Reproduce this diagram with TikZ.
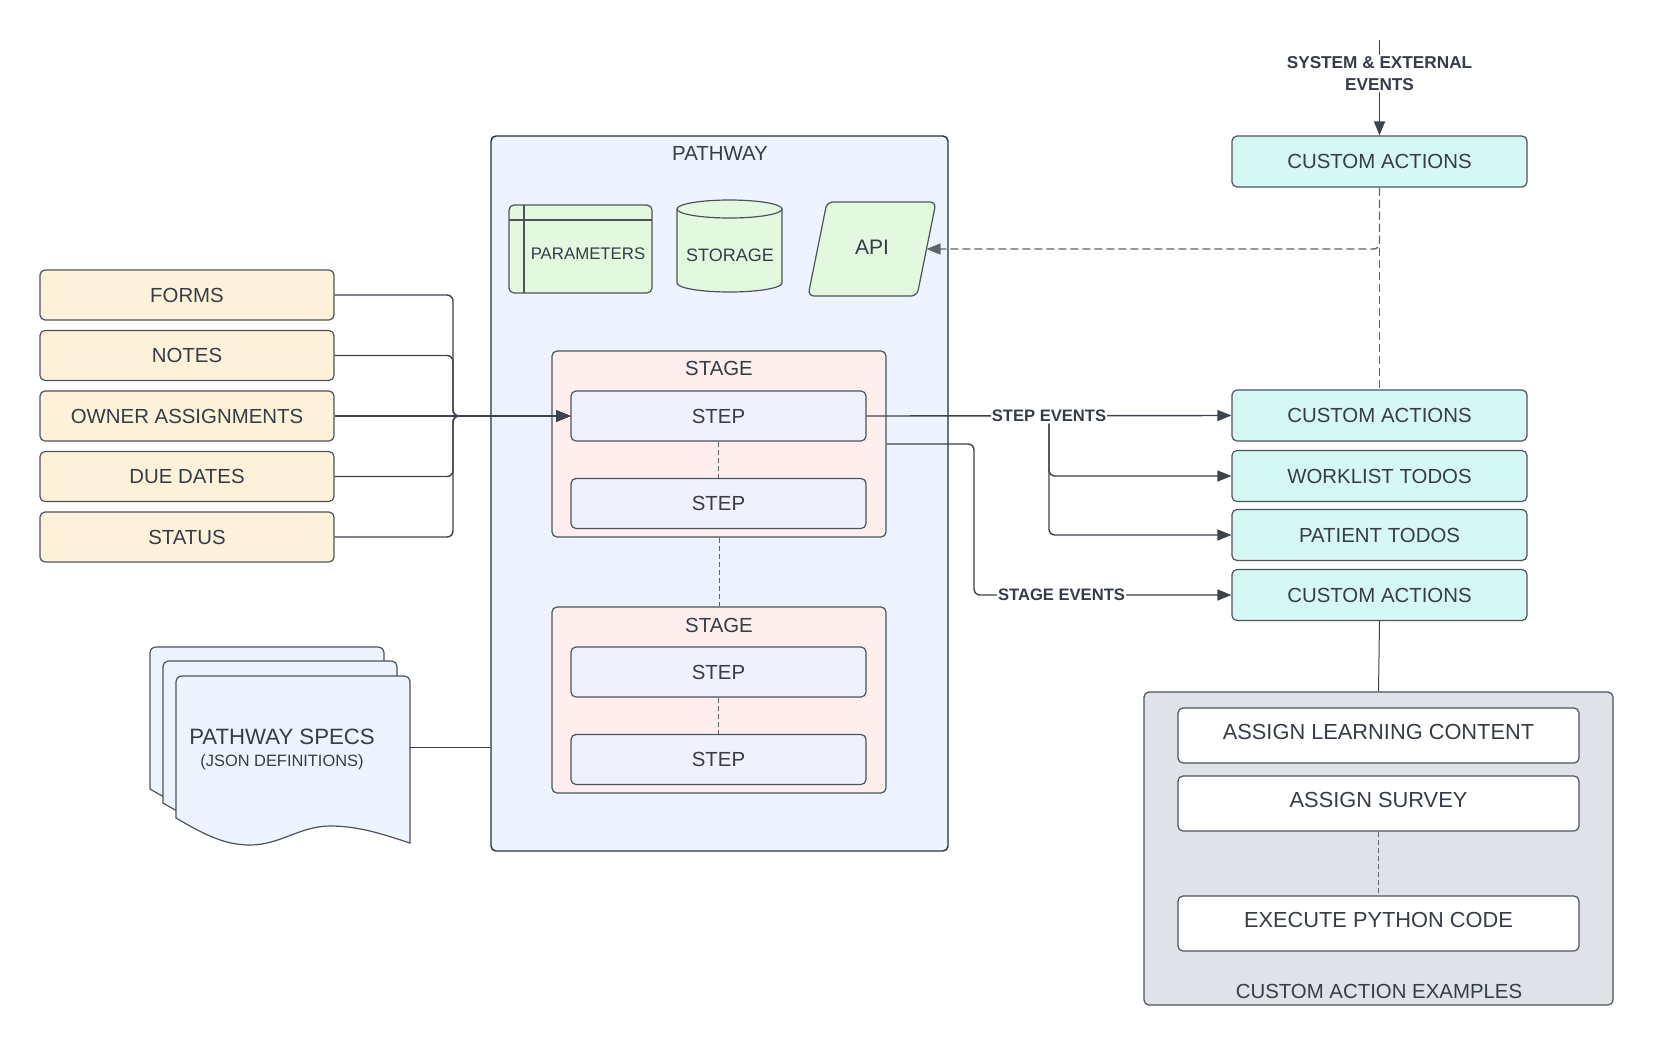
\documentclass[tikz,border=0pt]{standalone}
\usepackage{fontspec}
\setmainfont{Liberation Sans}
\usetikzlibrary{arrows.meta,shapes.geometric,calc}
\definecolor{txt}{HTML}{363D47}
\definecolor{bordc}{HTML}{4E535B}
\definecolor{pathb}{HTML}{2B2F36}
\definecolor{linec}{HTML}{3D434C}
\definecolor{dashc}{HTML}{5F646C}
\definecolor{yel}{HTML}{FEF2DA}
\definecolor{blu}{HTML}{EDF4FF}
\definecolor{grn}{HTML}{E2F9E0}
\definecolor{pnk}{HTML}{FEEFEE}
\definecolor{stp}{HTML}{EFF1FD}
\definecolor{cya}{HTML}{D6F8F2}
\definecolor{gry}{HTML}{DFE2E7}
\begin{document}
\begin{tikzpicture}[x=0.5pt,y=-0.5pt,
  every node/.style={text=txt},
  mainfont/.style={font=\fontsize{10.2}{12}\selectfont},
  base/.style={draw=bordc, line width=0.6pt, rounded corners=2.5pt, inner sep=0pt, mainfont},
  inbox/.style={base, fill=yel, minimum width=147pt, minimum height=25pt},
  stagebox/.style={base, fill=pnk, minimum width=167pt, minimum height=93pt},
  stepbox/.style={base, fill=stp, minimum width=147.5pt, minimum height=25pt},
  cabox/.style={base, fill=cya, minimum width=147.5pt, minimum height=25.5pt},
  exbox/.style={base, fill=white, minimum width=200.5pt, minimum height=27.5pt, text height=7.5pt, text depth=3.5pt, font=\fontsize{10.9}{13}\selectfont},
  conn/.style={draw=linec, line width=0.7pt},
  arr/.style={conn, -{Triangle[length=7pt,width=5.5pt]}},
  evlabel/.style={fill=white, inner sep=0.6pt, text=txt, font=\bfseries\fontsize{8.3}{9.5}\selectfont},
  dashlong/.style={draw=dashc, line width=0.7pt, dash pattern=on 4pt off 2pt},
  dashshort/.style={draw=dashc, line width=0.5pt, dash pattern=on 2.5pt off 1.5pt},
  docfill/.style={draw=bordc, fill=blu, line width=0.6pt},
]
\fill[white] (0,0) rectangle (1654,1045);
\useasboundingbox (0,0) rectangle (1654,1045);

% ---------------- Pathway container ----------------
\node[draw=pathb, fill=blu, line width=0.7pt, rounded corners=2.5pt, minimum width=228.5pt, minimum height=357.5pt, inner sep=0pt] (pathway) at (719.5,493.5) {};
\node[mainfont] (pathwaylbl) at (720,153) {PATHWAY};

% parameters
\node[base, fill=grn, minimum width=71.5pt, minimum height=44pt] (params) at (580.5,249) {};
\draw[bordc, line width=0.6pt] (524,205) -- (524,293);
\draw[bordc, line width=0.6pt] (509,220) -- (652,220);
\node[font=\fontsize{8.4}{10}\selectfont] (paramslbl) at (588,254) {PARAMETERS};

% storage cylinder
\path[draw=bordc, fill=grn, line width=0.6pt] (677,209) -- (677,283)
  arc[start angle=180, end angle=360, x radius=26.25pt, y radius=4.5pt] -- (782,209)
  arc[start angle=0, end angle=180, x radius=26.25pt, y radius=4.5pt] -- cycle;
\draw[bordc, line width=0.6pt] (677,209) arc[start angle=180, end angle=360, x radius=26.25pt, y radius=4.5pt];
\node[font=\fontsize{9}{11}\selectfont] (storage) at (730,255) {STORAGE};

% API (parallelogram)
\path[draw=bordc, fill=grn, line width=0.6pt, rounded corners=3pt] (808,296) -- (827,202) -- (936,202) -- (917,296) -- cycle;
\node[font=\fontsize{10.5}{12}\selectfont] (api) at (872,247) {API};
\coordinate (apiin) at (926.5,249);

% stages and steps
\node[stagebox] (stage1) at (719,444) {};
\node[mainfont] (stage1lbl) at (719,368) {STAGE};
\node[stepbox] (step1) at (718.5,416) {STEP};
\node[stepbox] (step2) at (718.5,503.5) {STEP};
\node[stagebox] (stage2) at (719,700) {};
\node[mainfont] (stage2lbl) at (719,625) {STAGE};
\node[stepbox] (step3) at (718.5,672) {STEP};
\node[stepbox] (step4) at (718.5,759.5) {STEP};
\draw[dashshort] (step1.south) -- (step2.north);
\draw[dashshort] (stage1.south) -- (stage2.north);
\draw[dashshort] (step3.south) -- (step4.north);

% ---------------- Left inputs ----------------
\node[inbox] (forms) at (187,295) {FORMS};
\node[inbox] (notes) at (187,355.5) {NOTES};
\node[inbox] (owner) at (187,416) {OWNER ASSIGNMENTS};
\node[inbox] (due) at (187,476.5) {DUE DATES};
\node[inbox] (status) at (187,537) {STATUS};
\coordinate (bus) at (453,416);
\foreach \n in {forms,notes,due,status}
  \draw[arr, rounded corners=3pt] (\n.east) -| (bus) -- (step1.west);
\draw[arr] (owner.east) -- (step1.west);

% ---------------- Pathway specs documents ----------------
\begin{scope}[shift={(-26,-29)}]
\path[docfill] (176,818) [rounded corners=3pt] -- (176,676) -- (410,676) [sharp corners] -- (410,843)
  .. controls (385,835) and (360,826) .. (330,826) .. controls (300,826) and (280,845) .. (250,845)
  .. controls (225,845) and (205,835) .. (176,818) -- cycle;
\end{scope}
\begin{scope}[shift={(-13,-15)}]
\path[docfill] (176,818) [rounded corners=3pt] -- (176,676) -- (410,676) [sharp corners] -- (410,843)
  .. controls (385,835) and (360,826) .. (330,826) .. controls (300,826) and (280,845) .. (250,845)
  .. controls (225,845) and (205,835) .. (176,818) -- cycle;
\end{scope}
\path[docfill] (176,818) [rounded corners=3pt] -- (176,676) -- (410,676) [sharp corners] -- (410,843)
  .. controls (385,835) and (360,826) .. (330,826) .. controls (300,826) and (280,845) .. (250,845)
  .. controls (225,845) and (205,835) .. (176,818) -- cycle;
\node[minimum width=117pt, minimum height=71pt, inner sep=0pt] (specs) at (293,747) {};
\node[font=\fontsize{11.1}{13}\selectfont] (specstitle) at (282,737) {PATHWAY SPECS};
\node[font=\fontsize{8.2}{10}\selectfont] (specssub) at (282,762) {(JSON DEFINITIONS)};
\draw[conn, line width=0.5pt] (specs.east) -- (specs.east -| pathway.west);

% ---------------- Right column ----------------
\node[cabox] (ca0) at (1379.5,161.5) {CUSTOM ACTIONS};
\node[cabox] (ca1) at (1379.5,415.5) {CUSTOM ACTIONS};
\node[cabox] (wl) at (1379.5,476) {WORKLIST TODOS};
\node[cabox] (pt) at (1379.5,535) {PATIENT TODOS};
\node[cabox] (ca4) at (1379.5,595) {CUSTOM ACTIONS};

\coordinate (sysstart) at (1379.5,40);
\draw[arr] (sysstart) -- node[evlabel, pos=0.354, align=center, font=\bfseries\fontsize{8.6}{11}\selectfont] (sysev) {SYSTEM \& EXTERNAL\\EVENTS} (ca0.north);

\draw[dashlong] (ca0.south) -- (ca1.north);
\draw[dashlong, -{Triangle[length=7pt,width=5.5pt]}, rounded corners=3pt] (ca0.south) |- (apiin);

\draw[arr] (step1.east) -- node[evlabel] (stepev) {STEP EVENTS} (ca1.west);
\draw[arr, rounded corners=3pt] (stepev.south) |- (wl.west);
\draw[arr, rounded corners=3pt] (stepev.south) |- (pt.west);

\coordinate (sebend) at (974,595);
\draw[arr, rounded corners=3pt] (stage1.east) -| (sebend) -- node[evlabel, pos=0.34] (stageev) {STAGE EVENTS} (ca4.west);

% ---------------- Examples ----------------
\node[draw=bordc, fill=gry, line width=0.6pt, rounded corners=2.5pt, minimum width=234.5pt, minimum height=156.5pt, inner sep=0pt] (examples) at (1378.5,848.5) {};
\node[exbox] (ex1) at (1378.5,735.5) {ASSIGN LEARNING CONTENT};
\node[exbox] (ex2) at (1378.5,803.5) {ASSIGN SURVEY};
\node[exbox] (ex3) at (1378.5,923.5) {EXECUTE PYTHON CODE};
\node[mainfont] (exlbl) at (1379,991) {CUSTOM ACTION EXAMPLES};
\draw[dashshort] (ex2.south) -- (ex3.north);
\draw[conn, line width=0.5pt] (ca4.south) -- (examples.north);
\end{tikzpicture}
\end{document}
